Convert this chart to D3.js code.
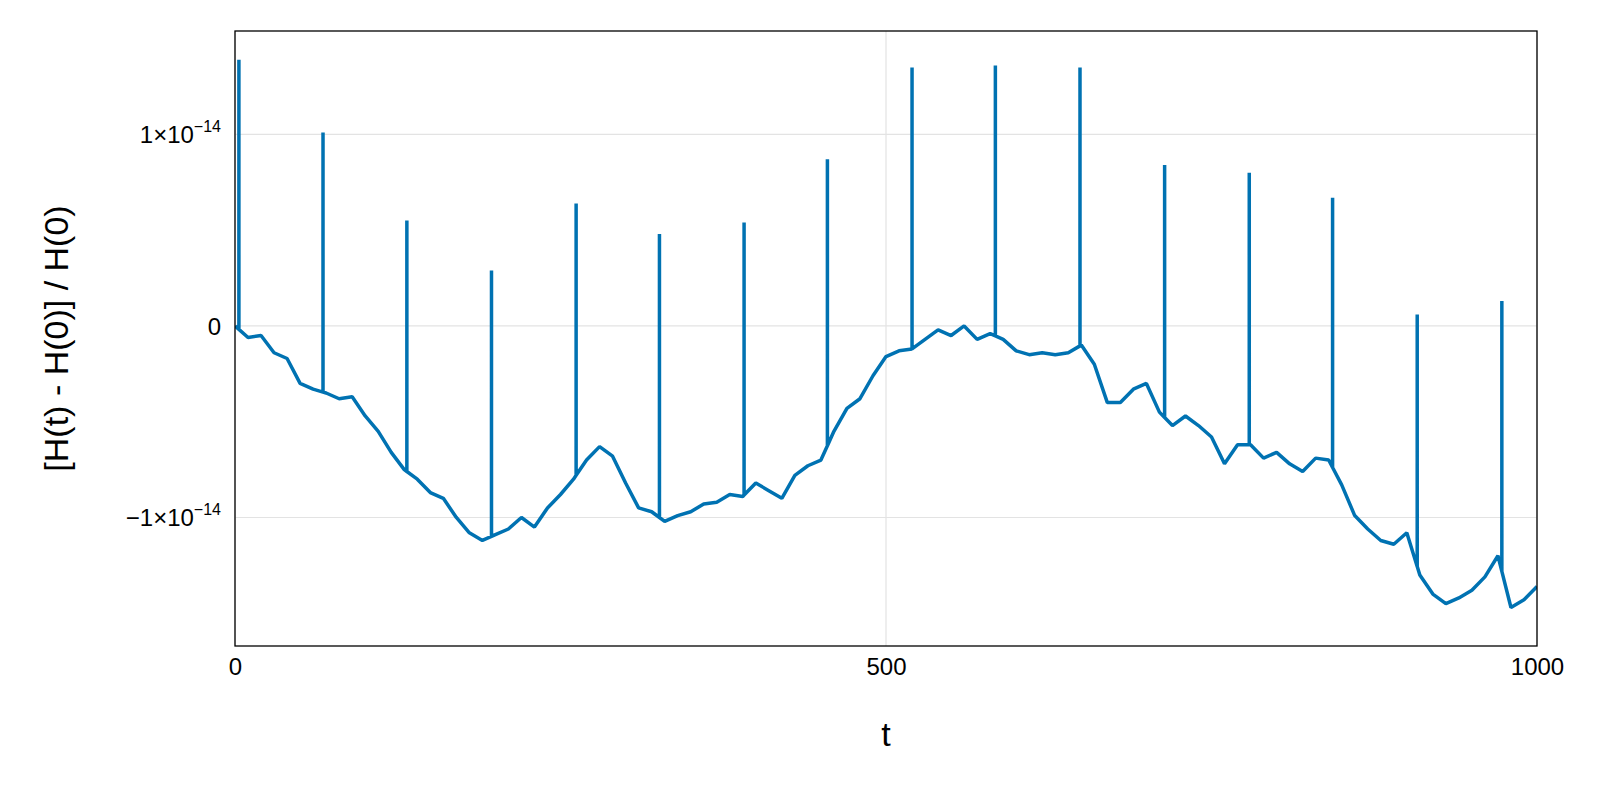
<!DOCTYPE html>
<html><head><meta charset="utf-8">
<script src="https://cdn.jsdelivr.net/npm/d3@7/dist/d3.min.js"></script>
<style>body{margin:0;background:#fff}svg{font-family:"Liberation Sans",Arial,sans-serif}</style>
</head><body><svg id="c" width="1600" height="800"></svg>
<script>
// values in units of 1e-14, sampled every 10 time units
const baseT = d3.range(0, 1001, 10);
const baseV = [0.00,-0.06,-0.05,-0.14,-0.17,-0.30,-0.33,-0.35,-0.38,-0.37,
-0.47,-0.55,-0.66,-0.75,-0.80,-0.87,-0.90,-1.00,-1.08,-1.12,
-1.09,-1.06,-1.00,-1.05,-0.95,-0.88,-0.80,-0.70,-0.63,-0.68,
-0.82,-0.95,-0.97,-1.02,-0.99,-0.97,-0.93,-0.92,-0.88,-0.89,
-0.82,-0.86,-0.90,-0.78,-0.73,-0.70,-0.55,-0.43,-0.38,-0.26,
-0.16,-0.13,-0.12,-0.07,-0.02,-0.05,0.00,-0.07,-0.04,-0.07,
-0.13,-0.15,-0.14,-0.15,-0.14,-0.10,-0.20,-0.40,-0.40,-0.33,
-0.30,-0.45,-0.52,-0.47,-0.52,-0.58,-0.72,-0.62,-0.62,-0.69,
-0.66,-0.72,-0.76,-0.69,-0.70,-0.83,-0.99,-1.06,-1.12,-1.14,
-1.08,-1.30,-1.40,-1.45,-1.42,-1.38,-1.31,-1.20,-1.47,-1.43,-1.36];
const spikeT = [3,67.6,132,197,262,326,391,455,520,584,649,714,779,843,908,973];
const spikeV = [1.39,1.01,0.55,0.29,0.64,0.48,0.54,0.87,1.35,1.36,1.35,0.84,0.80,0.67,0.06,0.13];
const xTicks = [0,500,1000];
const yTicks = [-1,0,1];

const svg = d3.select("#c");
const L=235,R=1537,T=31,B=646;
const x = d3.scaleLinear().domain([0,1000]).range([L,R]);
const y = d3.scaleLinear().domain([-1.671,1.54]).range([B,T]);

const g = svg.append("g");
g.selectAll(".gx").data(xTicks).join("line").attr("x1",d=>x(d)).attr("x2",d=>x(d)).attr("y1",T).attr("y2",B).attr("stroke","#e3e3e3").attr("stroke-width",1.2);
g.selectAll(".gy").data(yTicks).join("line").attr("y1",d=>y(d)).attr("y2",d=>y(d)).attr("x1",L).attr("x2",R).attr("stroke","#e3e3e3").attr("stroke-width",1.2);

const interp = d3.scaleLinear().domain(baseT).range(baseV);
let pts = baseT.map((t,i)=>[t,baseV[i]]);
spikeT.forEach((t,i)=>{ const b=interp(t); pts.push([t-0.01,b],[t,spikeV[i]],[t+0.01,b]); });
pts.sort((a,b)=>a[0]-b[0]);
svg.append("clipPath").attr("id","cp").append("rect").attr("x",L).attr("y",T).attr("width",R-L).attr("height",B-T);
svg.append("path").attr("clip-path","url(#cp)").datum(pts)
 .attr("d",d3.line().x(d=>x(d[0])).y(d=>y(d[1])))
 .attr("fill","none").attr("stroke","#0072b2").attr("stroke-width",3.5).attr("stroke-linejoin","bevel");

svg.append("rect").attr("x",L).attr("y",T).attr("width",R-L).attr("height",B-T).attr("fill","none").attr("stroke","#000").attr("stroke-width",1.3);

const xa = svg.append("g").attr("transform",`translate(0,${B})`).call(d3.axisBottom(x).tickValues(xTicks).tickFormat(d3.format("d")).tickSize(0).tickPadding(12));
xa.select(".domain").remove();
xa.selectAll("text").attr("font-size",24).attr("font-family","Liberation Sans, Arial").attr("fill","#000");

const ya = svg.append("g").attr("transform",`translate(${L},0)`).call(d3.axisLeft(y).tickValues(yTicks).tickSize(0).tickPadding(14).tickFormat(()=>""));
ya.select(".domain").remove();
ya.selectAll(".tick text").each(function(d){
  const t=d3.select(this).attr("font-size",24).attr("fill","#000").attr("dy","0.35em").attr("font-family","Liberation Sans, Arial");
  if(d===0){t.text("0");return;}
  t.append("tspan").text((d<0?"\u2212":"")+"1\u00d710");
  t.append("tspan").attr("font-size",16).attr("dy","-0.7em").text("\u221214");
});

svg.append("text").attr("x",(L+R)/2).attr("y",746).attr("text-anchor","middle").attr("font-size",34).text("t");
svg.append("text").attr("transform",`translate(68,${(T+B)/2}) rotate(-90)`).attr("text-anchor","middle").attr("font-size",34).text("[H(t) - H(0)] / H(0)");
</script></body></html>
